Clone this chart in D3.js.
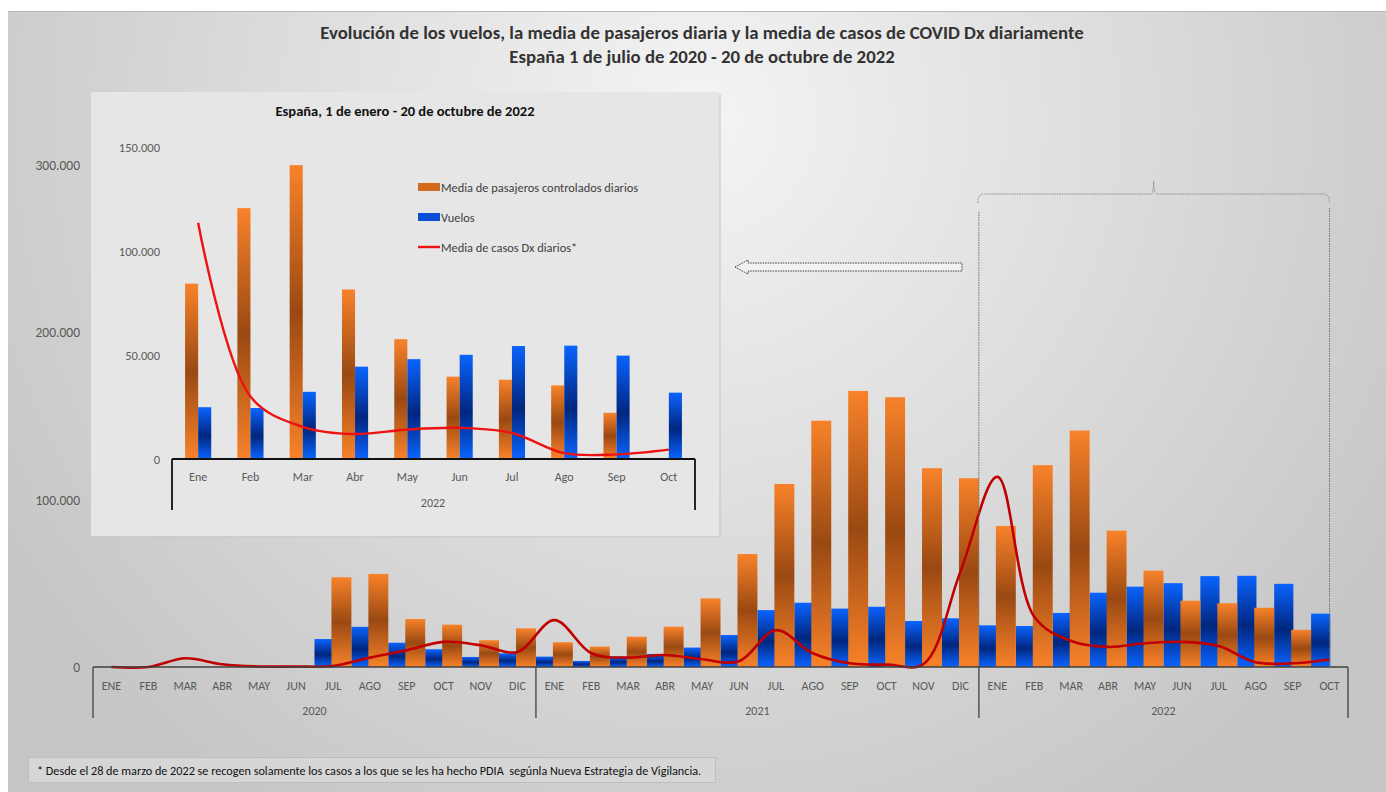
<!DOCTYPE html>
<html>
<head>
<meta charset="utf-8">
<script src="https://cdn.jsdelivr.net/npm/d3@7"></script>
<style>
  body { margin: 0; background: #fff; }
  text { font-family: Carlito, Calibri, Lato, sans-serif; }
</style>
</head>
<body>
<svg id="chart" width="1386" height="792"></svg>
<script>
// months and years
const monthsUpper = ['ENE', 'FEB', 'MAR', 'ABR', 'MAY', 'JUN', 'JUL', 'AGO', 'SEP', 'OCT', 'NOV', 'DIC'];
const monthsInset = ['Ene', 'Feb', 'Mar', 'Abr', 'May', 'Jun', 'Jul', 'Ago', 'Sep', 'Oct'];
const years = ['2020', '2021', '2022'];

// Vuelos (blue) per month, Jan 2020 .. Oct 2022
const vuelos2020 = [null, null, null, null, null, null, 16700, 24000, 14500, 10600, 6000, 8200];
const vuelos2021 = [6200, 3600, 6200, 7800, 11600, 19100, 34000, 38400, 34900, 36000, 27500, 29100];
const vuelos2022 = [24900, 24500, 32300, 44400, 48000, 50100, 54300, 54500, 49700, 31900];

// Media de pasajeros controlados diarios (orange)
const pasajeros2020 = [null, null, null, null, null, null, 53600, 55600, 28700, 25300, 16000, 23100];
const pasajeros2021 = [14800, 12200, 18100, 24100, 41000, 67500, 109400, 147200, 165000, 161200, 118800, 112800];
const pasajeros2022 = [84300, 120600, 141300, 81500, 57600, 39600, 38100, 35400, 22200, null];

// Media de casos Dx diarios (red line)
const casos2020 = [0, 0, 5200, 1600, 300, 300, 600, 5600, 10000, 15000, 13000, 9000];
const casos2021 = [28000, 8200, 5600, 7200, 4600, 3400, 22000, 8200, 2200, 1400, 1800, 57000];
const casos2022 = [113600, 30000, 15500, 12000, 14200, 15000, 12500, 2800, 2200, 4500];

const mainTicks = [0, 100000, 200000, 300000];
const insetTicks = [0, 50000, 100000, 150000];

const svg = d3.select('#chart');
const defs = svg.append('defs');
const fmt = v => d3.format(',')(v).replace(/,/g, '.');

// background slide
const bg = defs.append('radialGradient').attr('id', 'bg')
  .attr('gradientUnits', 'userSpaceOnUse').attr('cx', 700).attr('cy', 120).attr('r', 820);
bg.append('stop').attr('offset', 0).attr('stop-color', '#f4f4f4');
bg.append('stop').attr('offset', 1).attr('stop-color', '#c6c6c6');

const og = defs.append('linearGradient').attr('id', 'orange').attr('x1', 0).attr('y1', 0).attr('x2', 0).attr('y2', 1);
og.append('stop').attr('offset', 0).attr('stop-color', '#f8822a');
og.append('stop').attr('offset', 0.5).attr('stop-color', '#9a4912');
og.append('stop').attr('offset', 1).attr('stop-color', '#f8822a');

const bgr = defs.append('linearGradient').attr('id', 'blue').attr('x1', 0).attr('y1', 0).attr('x2', 0).attr('y2', 1);
bgr.append('stop').attr('offset', 0).attr('stop-color', '#0a64ff');
bgr.append('stop').attr('offset', 0.55).attr('stop-color', '#00267e');
bgr.append('stop').attr('offset', 1).attr('stop-color', '#0a64ff');

svg.append('rect').attr('x', 8).attr('y', 11).attr('width', 1378).attr('height', 781).attr('fill', 'url(#bg)');
svg.append('line').attr('x1', 8).attr('x2', 1386).attr('y1', 11.5).attr('y2', 11.5).attr('stroke', '#b8b8b8');

// titles
svg.append('text').attr('x', 702).attr('y', 39).attr('text-anchor', 'middle')
  .attr('font-size', 18.8).attr('font-weight', 'bold').attr('fill', '#333')
  .text('Evolución de los vuelos, la media de pasajeros diaria y la media de casos de COVID Dx diariamente');
svg.append('text').attr('x', 702).attr('y', 63).attr('text-anchor', 'middle')
  .attr('font-size', 18.8).attr('font-weight', 'bold').attr('fill', '#333')
  .text('España 1 de julio de 2020 - 20 de octubre de 2022');

// ---------- main chart ----------
const allLabels = [];
years.forEach((yr, i) => {
  const n = i === 2 ? 10 : 12;
  for (let m = 0; m < n; m++) allLabels.push(yr + '-' + m);
});
const vuelos = vuelos2020.concat(vuelos2021, vuelos2022);
const pasajeros = pasajeros2020.concat(pasajeros2021, pasajeros2022);
const casos = casos2020.concat(casos2021, casos2022);

const x = d3.scaleBand().domain(allLabels).range([93, 1348]).padding(0);
const y = d3.scaleLinear().domain([0, 300000]).range([667, 165]);
const bw = x.bandwidth();

svg.selectAll('.ytick').data(mainTicks).enter().append('text')
  .attr('x', 80).attr('y', d => y(d) + 5).attr('text-anchor', 'end')
  .attr('font-size', 13.5).attr('fill', '#595959').text(d => fmt(d));

// inset panel sits behind the main bars
svg.append('rect').attr('x', 93).attr('y', 94).attr('width', 628).attr('height', 444).attr('fill', '#c9c9c9').attr('opacity', 0.6);
svg.append('rect').attr('x', 91).attr('y', 92).attr('width', 628).attr('height', 444).attr('fill', '#e6e6e6');

const bars = svg.append('g');
bars.selectAll('.vb').data(allLabels.filter((d, i) => vuelos[i] != null)).enter().append('rect')
  .attr('x', d => x(d))
  .attr('y', d => y(vuelos[allLabels.indexOf(d)]))
  .attr('width', bw * 0.52)
  .attr('height', d => y(0) - y(vuelos[allLabels.indexOf(d)]))
  .attr('fill', 'url(#blue)');
bars.selectAll('.pb').data(allLabels.filter((d, i) => pasajeros[i] != null)).enter().append('rect')
  .attr('x', d => x(d) + bw * 0.46)
  .attr('y', d => y(pasajeros[allLabels.indexOf(d)]))
  .attr('width', bw * 0.54)
  .attr('height', d => y(0) - y(pasajeros[allLabels.indexOf(d)]))
  .attr('fill', 'url(#orange)');

const line = d3.line()
  .x((d, i) => x(allLabels[i]) + bw / 2)
  .y(d => y(d))
  .curve(d3.curveCatmullRom.alpha(0.5));
svg.append('path').datum(casos).attr('d', line)
  .attr('fill', 'none').attr('stroke', '#c00000').attr('stroke-width', 2.6);

// x axis
const axisG = svg.append('g').attr('stroke', '#404040');
axisG.append('line').attr('x1', 93).attr('x2', 1348).attr('y1', 667).attr('y2', 667).attr('stroke-width', 1.3);
const yearEdges = [allLabels[0], allLabels[12], allLabels[24]];
const seps = yearEdges.map(d => x(d)).concat([x.range()[1]]);
axisG.selectAll('.sep').data(seps).enter().append('line')
  .attr('x1', d => d).attr('x2', d => d).attr('y1', 667).attr('y2', 718).attr('stroke-width', 1.3);

svg.selectAll('.mlab').data(allLabels).enter().append('text')
  .attr('x', d => x(d) + bw / 2).attr('y', 690).attr('text-anchor', 'middle')
  .attr('font-size', 12).attr('fill', '#595959')
  .text(d => monthsUpper[+d.split('-')[1]]);
svg.selectAll('.ylab').data(years).enter().append('text')
  .attr('x', (d, i) => (seps[i] + seps[i + 1]) / 2).attr('y', 715).attr('text-anchor', 'middle')
  .attr('font-size', 12).attr('fill', '#595959').text(d => d);

// bracket over 2022
const x22a = x(allLabels[24]) - 1, x22b = x(allLabels[33]) + bw / 2;
const bx = (x22a + x22b) / 2;
svg.append('path')
  .attr('d', `M${x22a},203 Q${x22a},194 ${x22a + 6},194 L${bx - 3},194 Q${bx},194 ${bx},181 Q${bx},194 ${bx + 3},194 L${x22b - 6},194 Q${x22b},194 ${x22b},203`)
  .attr('stroke', '#8a8a8a').attr('stroke-width', 1).attr('stroke-dasharray', '1.5,1').attr('fill', 'none');
[[x22a + 1, 212], [x22b, 208]].forEach(([xx, y0]) => {
  svg.append('line').attr('x1', xx).attr('x2', xx).attr('y1', y0).attr('y2', 667)
    .attr('stroke', '#6f6f6f').attr('stroke-width', 1).attr('stroke-dasharray', '1.5,1');
});

// arrow pointing to the inset
svg.append('path')
  .attr('d', 'M735,267 L748,260 L748,263 L962,263 L962,271 L748,271 L748,274 Z')
  .attr('fill', '#f2f2f2').attr('stroke', '#404040').attr('stroke-width', 1).attr('stroke-dasharray', '1.5,1');

// ---------- inset chart ----------
const xi = d3.scaleBand().domain(monthsInset).range([172, 695]).padding(0);
const yi = d3.scaleLinear().domain([0, 150000]).range([459, 147]);
const bwi = xi.bandwidth();

svg.append('text').attr('x', 405).attr('y', 116).attr('text-anchor', 'middle')
  .attr('font-size', 14.5).attr('font-weight', 'bold').attr('fill', '#111')
  .text('España, 1 de enero - 20 de octubre de 2022');

svg.selectAll('.yit').data(insetTicks).enter().append('text')
  .attr('x', 160).attr('y', d => yi(d) + 5).attr('text-anchor', 'end')
  .attr('font-size', 12.5).attr('fill', '#595959').text(d => fmt(d));

const ig = svg.append('g');
ig.selectAll('.ipb').data(monthsInset.filter((d, i) => pasajeros2022[i] != null)).enter().append('rect')
  .attr('x', d => xi(d) + bwi * 0.25)
  .attr('y', d => yi(pasajeros2022[monthsInset.indexOf(d)]))
  .attr('width', bwi * 0.25)
  .attr('height', d => yi(0) - yi(pasajeros2022[monthsInset.indexOf(d)]))
  .attr('fill', 'url(#orange)');
ig.selectAll('.ivb').data(monthsInset).enter().append('rect')
  .attr('x', d => xi(d) + bwi * 0.5)
  .attr('y', (d, i) => yi(vuelos2022[i]))
  .attr('width', bwi * 0.25)
  .attr('height', (d, i) => yi(0) - yi(vuelos2022[i]))
  .attr('fill', 'url(#blue)');

const lineI = d3.line()
  .x((d, i) => xi(monthsInset[i]) + bwi / 2)
  .y(d => yi(d))
  .curve(d3.curveCatmullRom.alpha(0.5));
svg.append('path').datum(casos2022).attr('d', lineI)
  .attr('fill', 'none').attr('stroke', '#ee1111').attr('stroke-width', 2.4);

const ia = svg.append('g').attr('stroke', '#111');
ia.append('line').attr('x1', 172).attr('x2', 695).attr('y1', 459).attr('y2', 459).attr('stroke-width', 1.8);
ia.append('line').attr('x1', 172).attr('x2', 172).attr('y1', 459).attr('y2', 510).attr('stroke-width', 1.8);
ia.append('line').attr('x1', 695).attr('x2', 695).attr('y1', 459).attr('y2', 510).attr('stroke-width', 1.8);
svg.selectAll('.imlab').data(monthsInset).enter().append('text')
  .attr('x', d => xi(d) + bwi / 2).attr('y', 481).attr('text-anchor', 'middle')
  .attr('font-size', 12).attr('fill', '#595959').text(d => d);
svg.append('text').attr('x', 433).attr('y', 507).attr('text-anchor', 'middle')
  .attr('font-size', 12).attr('fill', '#595959').text('2022');

// legend
const legend = [
  { label: 'Media de pasajeros controlados diarios', type: 'orange' },
  { label: 'Vuelos', type: 'blue' },
  { label: 'Media de casos Dx diarios*', type: 'line' }
];
const lg = svg.append('g').attr('transform', 'translate(418,187)');
legend.forEach((d, i) => {
  const gy = i * 30;
  if (d.type === 'line') {
    lg.append('line').attr('x1', 0).attr('x2', 22).attr('y1', gy).attr('y2', gy)
      .attr('stroke', '#ee1111').attr('stroke-width', 2.4);
  } else {
    lg.append('rect').attr('x', 0).attr('y', gy - 4).attr('width', 22).attr('height', 8)
      .attr('fill', d.type === 'orange' ? '#d26a20' : '#0a4fd8');
  }
  lg.append('text').attr('x', 23).attr('y', gy + 4.5).attr('font-size', 12.4).attr('fill', '#404040').text(d.label);
});

// footnote
svg.append('rect').attr('x', 28.5).attr('y', 757.5).attr('width', 687).attr('height', 25)
  .attr('fill', '#d6d6d6').attr('stroke', '#bdbdbd');
svg.append('text').attr('x', 37).attr('y', 774.5).attr('font-size', 12.2).attr('fill', '#111')
  .style('white-space', 'pre')
  .text('* Desde el 28 de marzo de 2022 se recogen solamente los casos a los que se les ha hecho PDIA  segúnla Nueva Estrategia de Vigilancia.');
</script>
</body>
</html>
